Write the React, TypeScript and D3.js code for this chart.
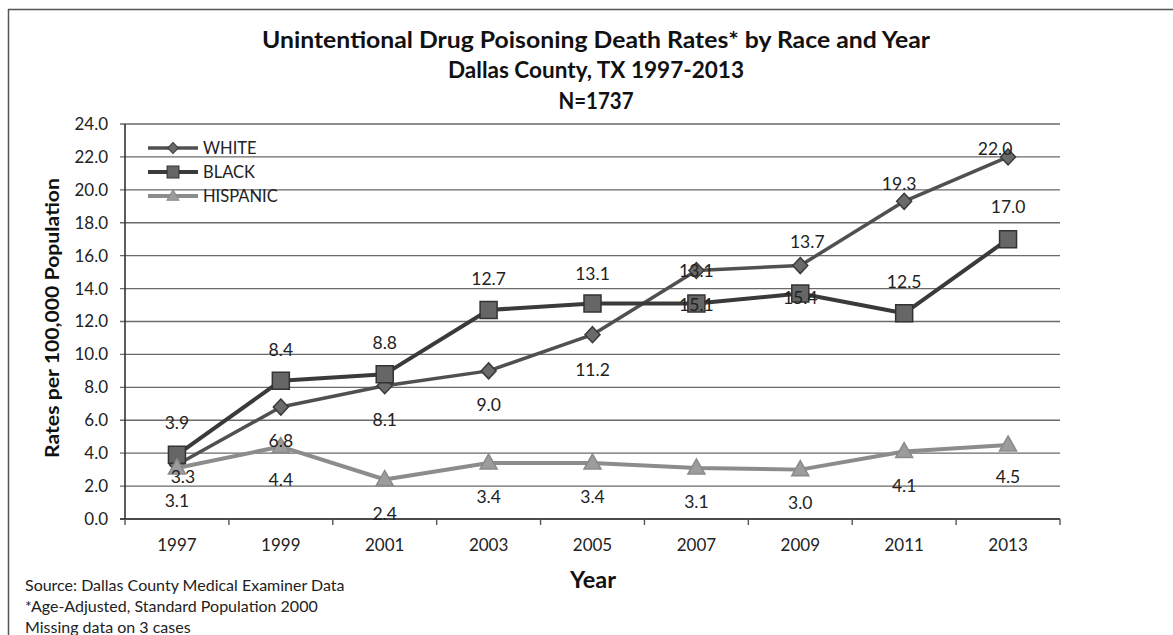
import React from 'react';
import * as d3 from 'd3';

const years = ['1997', '1999', '2001', '2003', '2005', '2007', '2009', '2011', '2013'];
const whiteRates = [3.3, 6.8, 8.1, 9.0, 11.2, 15.1, 15.4, 19.3, 22.0];
const blackRates = [3.9, 8.4, 8.8, 12.7, 13.1, 13.1, 13.7, 12.5, 17.0];
const hispanicRates = [3.1, 4.4, 2.4, 3.4, 3.4, 3.1, 3.0, 4.1, 4.5];
const seriesNames = ['WHITE', 'BLACK', 'HISPANIC'];
const yTicks = [0, 2, 4, 6, 8, 10, 12, 14, 16, 18, 20, 22, 24];
const titleLines = [
  'Unintentional Drug Poisoning Death Rates* by Race and Year',
  'Dallas County, TX 1997-2013',
  'N=1737',
];
const yAxisTitle = 'Rates per 100,000 Population';
const xAxisTitle = 'Year';
const footnotes = [
  'Source: Dallas County Medical Examiner Data',
  '*Age-Adjusted, Standard Population 2000',
  'Missing data on 3 cases',
];

const W = 1173;
const H = 635;
const FONT = 'Lato, "Open Sans", sans-serif';

// title line widths (layout)
const titleWidths = [668, 296, 75];

// label shifts (pixels) relative to each point, per series
const labelShift: [number, number][][] = [
  [[6, 12], [0, 34], [0, 34], [0, 34], [0, 35], [0, 34], [0, 32], [-5, -17], [-13, -8]],
  [[0, -32], [0, -31], [0, -31], [0, -31], [0, -30], [0, -33], [7, -52], [0, -31], [0, -32]],
  [[0, 33], [0, 33], [0, 34], [0, 34], [0, 34], [0, 34], [0, 33], [0, 34], [0, 32]],
];

const styles = [
  { line: '#505050', width: 3.5, fill: '#6a6a6a', stroke: '#3a3a3a', marker: 'diamond' },
  { line: '#3a3a3a', width: 4, fill: '#666666', stroke: '#333333', marker: 'square' },
  { line: '#8c8c8c', width: 4, fill: '#9c9c9c', stroke: '#8a8a8a', marker: 'triangle' },
];

function markerPath(kind: string): string {
  if (kind === 'diamond') return 'M0,-8L7.5,0L0,8L-7.5,0Z';
  if (kind === 'square') return 'M-8.5,-8.5H8.5V8.5H-8.5Z';
  return 'M0,-9L8.5,6L-8.5,6Z';
}

export default function App() {
  const series = [whiteRates, blackRates, hispanicRates];
  const x = d3.scaleBand<string>().domain(years).range([125, 1060]);
  const y = d3.scaleLinear().domain([0, 24]).range([519, 124]);
  const cx = (yr: string) => (x(yr) as number) + x.bandwidth() / 2;
  const line = d3
    .line<number>()
    .x((_, i) => cx(years[i]))
    .y((d) => y(d));
  const bounds = years.map((yr) => x(yr) as number).concat([x.range()[1]]);

  return (
    <svg
      width={W}
      height={H}
      style={{ position: 'absolute', left: 0, top: 0, background: '#fff' }}
      fontFamily={FONT}
    >
      <rect x={0} y={0} width={W} height={H} fill="#fff" />
      {/* frame */}
      <line x1={8} x2={W} y1={9.5} y2={9.5} stroke="#555" strokeWidth={1.5} />
      <line x1={8.5} x2={8.5} y1={9} y2={H} stroke="#555" strokeWidth={1.5} />

      {/* titles */}
      {titleLines.map((t, i) => (
        <text
          key={t}
          x={596}
          y={40 + i * 30.5}
          textAnchor="middle"
          dy="0.35em"
          fontWeight="bold"
          fontSize={22}
          textLength={titleWidths[i]}
          lengthAdjust="spacingAndGlyphs"
          fill="#111"
        >
          {t}
        </text>
      ))}

      {/* gridlines */}
      {yTicks.map((t) => (
        <line
          key={'g' + t}
          x1={120}
          x2={1060}
          y1={y(t)}
          y2={y(t)}
          stroke="#6a6a6a"
          strokeWidth={1.4}
        />
      ))}
      {/* y tick labels */}
      {yTicks.map((t) => (
        <text key={'yl' + t} x={108} y={y(t)} dy="0.35em" textAnchor="end" fontSize={17} fill="#222">
          {t.toFixed(1)}
        </text>
      ))}
      {/* axes */}
      <line x1={125} x2={125} y1={124} y2={519} stroke="#333" strokeWidth={1.6} />
      <line x1={120} x2={1060} y1={519} y2={519} stroke="#333" strokeWidth={1.6} />
      {bounds.map((b, i) => (
        <line key={'xt' + i} x1={b} x2={b} y1={519} y2={525} stroke="#555" strokeWidth={1.4} />
      ))}
      {years.map((yr) => (
        <text key={'xl' + yr} x={cx(yr)} y={545} dy="0.35em" textAnchor="middle" fontSize={17} fill="#222">
          {yr}
        </text>
      ))}

      {/* axis titles */}
      <text
        transform={`translate(52,318) rotate(-90)`}
        textAnchor="middle"
        dy="0.35em"
        fontWeight="bold"
        fontSize={19.5}
        textLength={280}
        lengthAdjust="spacingAndGlyphs"
        fill="#111"
      >
        {yAxisTitle}
      </text>
      <text x={593} y={580} dy="0.35em" textAnchor="middle" fontWeight="bold" fontSize={23.5} fill="#111">
        {xAxisTitle}
      </text>

      {/* series */}
      {series.map((s, si) => (
        <g key={'s' + si}>
          <path d={line(s) as string} fill="none" stroke={styles[si].line} strokeWidth={styles[si].width} strokeLinejoin="round" />
          {s.map((v, i) => (
            <path
              key={'m' + i}
              d={markerPath(styles[si].marker)}
              transform={`translate(${cx(years[i])},${y(v)})`}
              fill={styles[si].fill}
              stroke={styles[si].stroke}
              strokeWidth={1.5}
            />
          ))}
        </g>
      ))}
      {/* data labels */}
      {series.map((s, si) =>
        s.map((v, i) => (
          <text
            key={'dl' + si + '-' + i}
            x={cx(years[i]) + labelShift[si][i][0]}
            y={y(v) + labelShift[si][i][1]}
            dy="0.35em"
            textAnchor="middle"
            fontSize={17.5}
            fill="#222"
          >
            {v.toFixed(1)}
          </text>
        ))
      )}

      {/* legend */}
      {seriesNames.map((n, i) => (
        <g key={'lg' + n} transform={`translate(148,${148 + i * 24})`}>
          <line x1={0} x2={50} y1={0} y2={0} stroke={styles[i].line} strokeWidth={styles[i].width} />
          <path d={markerPath(styles[i].marker)} transform="translate(25,0) scale(0.7)" fill={styles[i].fill} stroke={styles[i].stroke} strokeWidth={1.5} />
          <text x={55} y={0} dy="0.35em" fontSize={16.5} fill="#222">
            {n}
          </text>
        </g>
      ))}

      {/* footnotes */}
      {footnotes.map((f, i) => (
        <text key={'fn' + i} x={25} y={585 + i * 21} dy="0.35em" fontSize={16} fill="#222">
          {f}
        </text>
      ))}
    </svg>
  );
}
